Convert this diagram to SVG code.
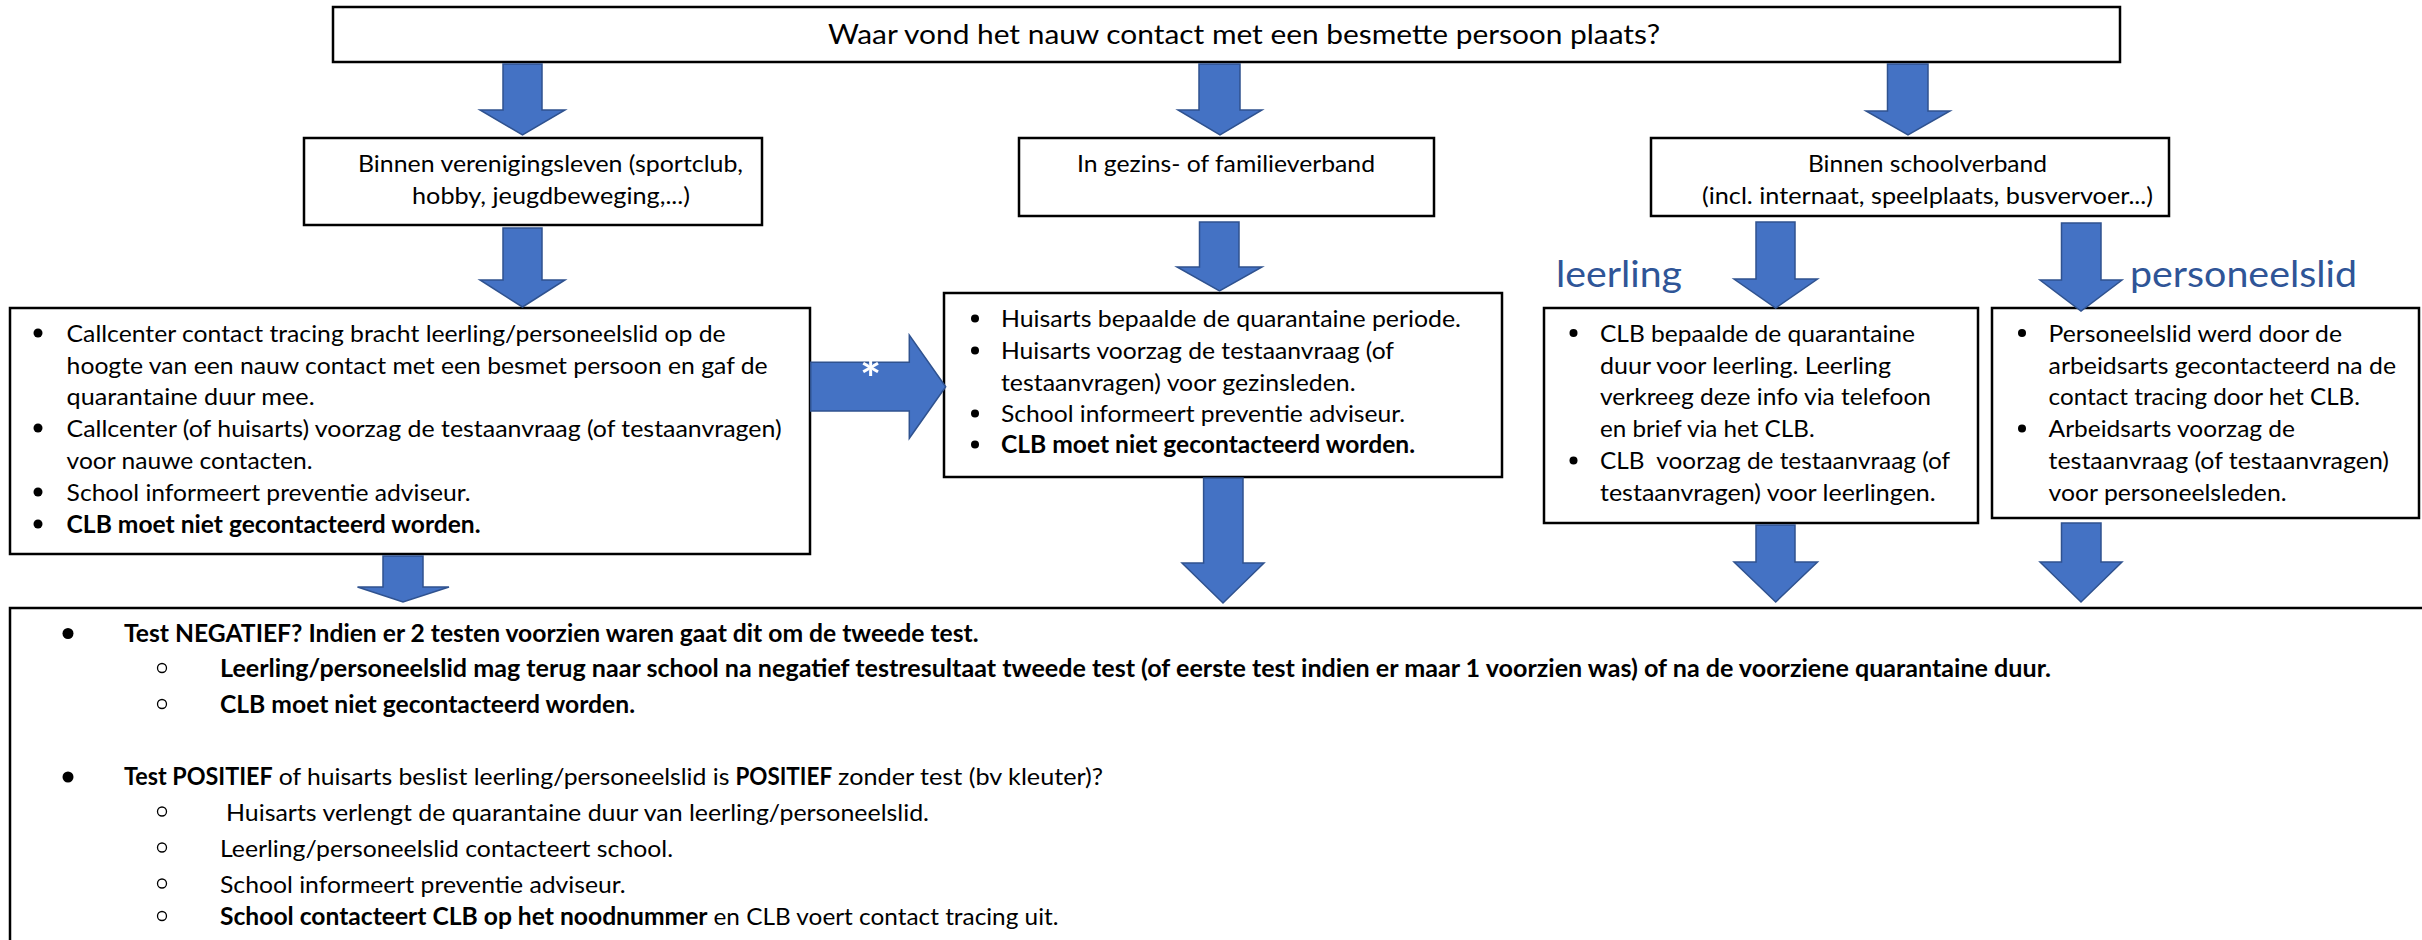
<svg xmlns="http://www.w3.org/2000/svg" width="2422" height="940" viewBox="0 0 2422 940">
<style>
.box{fill:#fff;stroke:#000;stroke-width:2.5}
.arr{fill:#4472C4;stroke:#2F528F;stroke-width:1.5}
.t{font-family:Lato,"Open Sans","Liberation Sans",sans-serif;font-size:24px;fill:#000}
.b{font-weight:bold}
.title{font-size:27px}
.lbl{font-family:Lato,"Open Sans","Liberation Sans",sans-serif;font-size:37px;font-weight:normal;fill:#2F5597}
.dot{fill:#000}
.ring{fill:none;stroke:#000;stroke-width:1.3}
.ast{font-family:Lato,"Liberation Sans",sans-serif;font-size:50px;font-weight:bold;fill:#fff}
</style>
<rect width="2422" height="940" fill="#fff"/>

<g id="node-top">
<rect class="box" x="333" y="7" width="1787" height="55"/>
<text class="t title" x="828" y="44" textLength="832" lengthAdjust="spacingAndGlyphs">Waar vond het nauw contact met een besmette persoon plaats?</text>
</g>

<g id="node-vereniging">
<rect class="box" x="304" y="138" width="458" height="87"/>
<text class="t" x="358" y="172" textLength="385" lengthAdjust="spacingAndGlyphs">Binnen verenigingsleven (sportclub,</text>
<text class="t" x="412" y="204" textLength="278" lengthAdjust="spacingAndGlyphs">hobby, jeugdbeweging,...)</text>
</g>

<g id="node-gezin">
<rect class="box" x="1019" y="138" width="415" height="78"/>
<text class="t" x="1077" y="172" textLength="298" lengthAdjust="spacingAndGlyphs">In gezins- of familieverband</text>
</g>

<g id="node-school">
<rect class="box" x="1651" y="138" width="518" height="78"/>
<text class="t" x="1808" y="172" textLength="239" lengthAdjust="spacingAndGlyphs">Binnen schoolverband</text>
<text class="t" x="1702" y="204" textLength="451" lengthAdjust="spacingAndGlyphs">(incl. internaat, speelplaats, busvervoer...)</text>
</g>

<g id="node-callcenter">
<rect class="box" x="10" y="308" width="800" height="246"/>
<circle class="dot" cx="38" cy="333" r="4.5"/>
<circle class="dot" cx="38" cy="428" r="4.5"/>
<circle class="dot" cx="38" cy="492" r="4.5"/>
<circle class="dot" cx="38" cy="524" r="4.5"/>
<text class="t" x="66.6" y="341.7" textLength="659" lengthAdjust="spacingAndGlyphs">Callcenter contact tracing bracht leerling/personeelslid op de</text>
<text class="t" x="66.6" y="373.5" textLength="701" lengthAdjust="spacingAndGlyphs">hoogte van een nauw contact met een besmet persoon en gaf de</text>
<text class="t" x="66.6" y="405.3" textLength="248" lengthAdjust="spacingAndGlyphs">quarantaine duur mee.</text>
<text class="t" x="66.6" y="437" textLength="715" lengthAdjust="spacingAndGlyphs">Callcenter (of huisarts) voorzag de testaanvraag (of testaanvragen)</text>
<text class="t" x="66.6" y="469" textLength="246" lengthAdjust="spacingAndGlyphs">voor nauwe contacten.</text>
<text class="t" x="66.6" y="500.7" textLength="404" lengthAdjust="spacingAndGlyphs">School informeert preventie adviseur.</text>
<text class="t b" x="66.6" y="532.7" textLength="414" lengthAdjust="spacingAndGlyphs">CLB moet niet gecontacteerd worden.</text>
</g>

<g id="node-huisarts">
<rect class="box" x="944" y="293" width="558" height="184"/>
<circle class="dot" cx="975" cy="318.5" r="4"/>
<circle class="dot" cx="975" cy="350.5" r="4"/>
<circle class="dot" cx="975" cy="413.5" r="4"/>
<circle class="dot" cx="975" cy="444.5" r="4"/>
<text class="t" x="1001" y="327" textLength="460" lengthAdjust="spacingAndGlyphs">Huisarts bepaalde de quarantaine periode.</text>
<text class="t" x="1001" y="359" textLength="393" lengthAdjust="spacingAndGlyphs">Huisarts voorzag de testaanvraag (of</text>
<text class="t" x="1001" y="391" textLength="354.6" lengthAdjust="spacingAndGlyphs">testaanvragen) voor gezinsleden.</text>
<text class="t" x="1001" y="422" textLength="404" lengthAdjust="spacingAndGlyphs">School informeert preventie adviseur.</text>
<text class="t b" x="1001" y="453" textLength="414" lengthAdjust="spacingAndGlyphs">CLB moet niet gecontacteerd worden.</text>
</g>

<g id="node-leerling">
<text class="lbl" x="1556" y="287" textLength="126" lengthAdjust="spacingAndGlyphs">leerling</text>
<rect class="box" x="1544" y="308" width="434" height="215"/>
<circle class="dot" cx="1573.5" cy="333" r="4"/>
<circle class="dot" cx="1573.5" cy="460.5" r="4"/>
<text class="t" x="1600" y="341.7" textLength="315" lengthAdjust="spacingAndGlyphs">CLB bepaalde de quarantaine</text>
<text class="t" x="1600" y="373.5" textLength="291" lengthAdjust="spacingAndGlyphs">duur voor leerling. Leerling</text>
<text class="t" x="1600" y="405.3" textLength="331" lengthAdjust="spacingAndGlyphs">verkreeg deze info via telefoon</text>
<text class="t" x="1600" y="437" textLength="214.6" lengthAdjust="spacingAndGlyphs">en brief via het CLB.</text>
<text class="t" x="1600" y="469" textLength="350" lengthAdjust="spacingAndGlyphs" style="white-space:pre">CLB  voorzag de testaanvraag (of</text>
<text class="t" x="1600" y="500.7" textLength="335.7" lengthAdjust="spacingAndGlyphs">testaanvragen) voor leerlingen.</text>
</g>

<g id="node-personeelslid">
<text class="lbl" x="2130" y="287" textLength="227" lengthAdjust="spacingAndGlyphs">personeelslid</text>
<rect class="box" x="1992" y="308" width="427" height="210"/>
<circle class="dot" cx="2022" cy="333" r="4"/>
<circle class="dot" cx="2022" cy="428.5" r="4"/>
<text class="t" x="2048.6" y="341.7" textLength="293.4" lengthAdjust="spacingAndGlyphs">Personeelslid werd door de</text>
<text class="t" x="2048.6" y="373.5" textLength="347.4" lengthAdjust="spacingAndGlyphs">arbeidsarts gecontacteerd na de</text>
<text class="t" x="2048.6" y="405.3" textLength="311.4" lengthAdjust="spacingAndGlyphs">contact tracing door het CLB.</text>
<text class="t" x="2048.6" y="437" textLength="246.4" lengthAdjust="spacingAndGlyphs">Arbeidsarts voorzag de</text>
<text class="t" x="2048.6" y="469" textLength="340.4" lengthAdjust="spacingAndGlyphs">testaanvraag (of testaanvragen)</text>
<text class="t" x="2048.6" y="500.7" textLength="238" lengthAdjust="spacingAndGlyphs">voor personeelsleden.</text>
</g>

<g id="node-resultaat">
<rect class="box" x="10" y="608" width="2440" height="360"/>
<circle class="dot" cx="68" cy="633.5" r="5.5"/>
<text class="t b" x="124" y="641.7" textLength="854.5" lengthAdjust="spacingAndGlyphs">Test NEGATIEF? Indien er 2 testen voorzien waren gaat dit om de tweede test.</text>
<circle class="ring" cx="162" cy="668" r="4.5"/>
<text class="t b" x="220" y="677.3" textLength="1831" lengthAdjust="spacingAndGlyphs">Leerling/personeelslid mag terug naar school na negatief testresultaat tweede test (of eerste test indien er maar 1 voorzien was) of na de voorziene quarantaine duur.</text>
<circle class="ring" cx="162" cy="704" r="4.5"/>
<text class="t b" x="220" y="713.3" textLength="415" lengthAdjust="spacingAndGlyphs">CLB moet niet gecontacteerd worden.</text>
<circle class="dot" cx="68" cy="777" r="5.5"/>
<text class="t" y="785"><tspan class="b" x="124" textLength="148.7" lengthAdjust="spacingAndGlyphs">Test POSITIEF</tspan> <tspan x="278.7" textLength="450.7" lengthAdjust="spacingAndGlyphs">of huisarts beslist leerling/personeelslid is</tspan> <tspan class="b" x="735.4" textLength="96.7" lengthAdjust="spacingAndGlyphs">POSITIEF</tspan> <tspan x="838.1" textLength="265" lengthAdjust="spacingAndGlyphs">zonder test (bv kleuter)?</tspan></text>
<circle class="ring" cx="162" cy="811.5" r="4.5"/>
<text class="t" x="226" y="820.7" textLength="703" lengthAdjust="spacingAndGlyphs">Huisarts verlengt de quarantaine duur van leerling/personeelslid.</text>
<circle class="ring" cx="162" cy="847.5" r="4.5"/>
<text class="t" x="220" y="856.7" textLength="453" lengthAdjust="spacingAndGlyphs">Leerling/personeelslid contacteert school.</text>
<circle class="ring" cx="162" cy="883.5" r="4.5"/>
<text class="t" x="220" y="892.7" textLength="405.6" lengthAdjust="spacingAndGlyphs">School informeert preventie adviseur.</text>
<circle class="ring" cx="162" cy="916" r="4.5"/>
<text class="t" y="925"><tspan class="b" x="220" textLength="487.5" lengthAdjust="spacingAndGlyphs">School contacteert CLB op het noodnummer</tspan> <tspan x="713.5" textLength="345" lengthAdjust="spacingAndGlyphs">en CLB voert contact tracing uit.</tspan></text>
</g>

<g id="connectors">
<polygon class="arr" points="503,64 542,64 542,110 565,110 522.5,135 480,110 503,110"/>
<polygon class="arr" points="1199,64 1240,64 1240,110 1262,110 1220,135 1178,110 1199,110"/>
<polygon class="arr" points="1887.5,64 1928,64 1928,111 1950,111 1908,135 1866,111 1887.5,111"/>
<polygon class="arr" points="503,228 542,228 542,280 565,280 522.5,307 480,280 503,280"/>
<polygon class="arr" points="1199.5,222 1239,222 1239,267 1262,267 1219.5,291 1177,267 1199.5,267"/>
<polygon class="arr" points="1756,222 1795,222 1795,279 1817.5,279 1775.7,308 1734,279 1756,279"/>
<polygon class="arr" points="2061.5,223 2101,223 2101,280 2122,280 2081,311 2040,280 2061.5,280"/>
<polygon class="arr" points="810.7,362.3 909.3,362.3 909.3,335 945.7,386.7 909.3,438.3 909.3,411 810.7,411"/>
<text class="ast" x="870.7" y="397" text-anchor="middle">*</text>
<polygon class="arr" points="383,556 423,556 423,587 449,587 403,602 357.5,587 383,587"/>
<polygon class="arr" points="1203.6,478 1243,478 1243,563 1264,563 1223,603 1182,563 1203.6,563"/>
<polygon class="arr" points="1756,525 1795,525 1795,562 1817.5,562 1775.7,602 1734,562 1756,562"/>
<polygon class="arr" points="2061.5,523 2101,523 2101,562 2122,562 2081,602 2040,562 2061.5,562"/>
</g>
</svg>
